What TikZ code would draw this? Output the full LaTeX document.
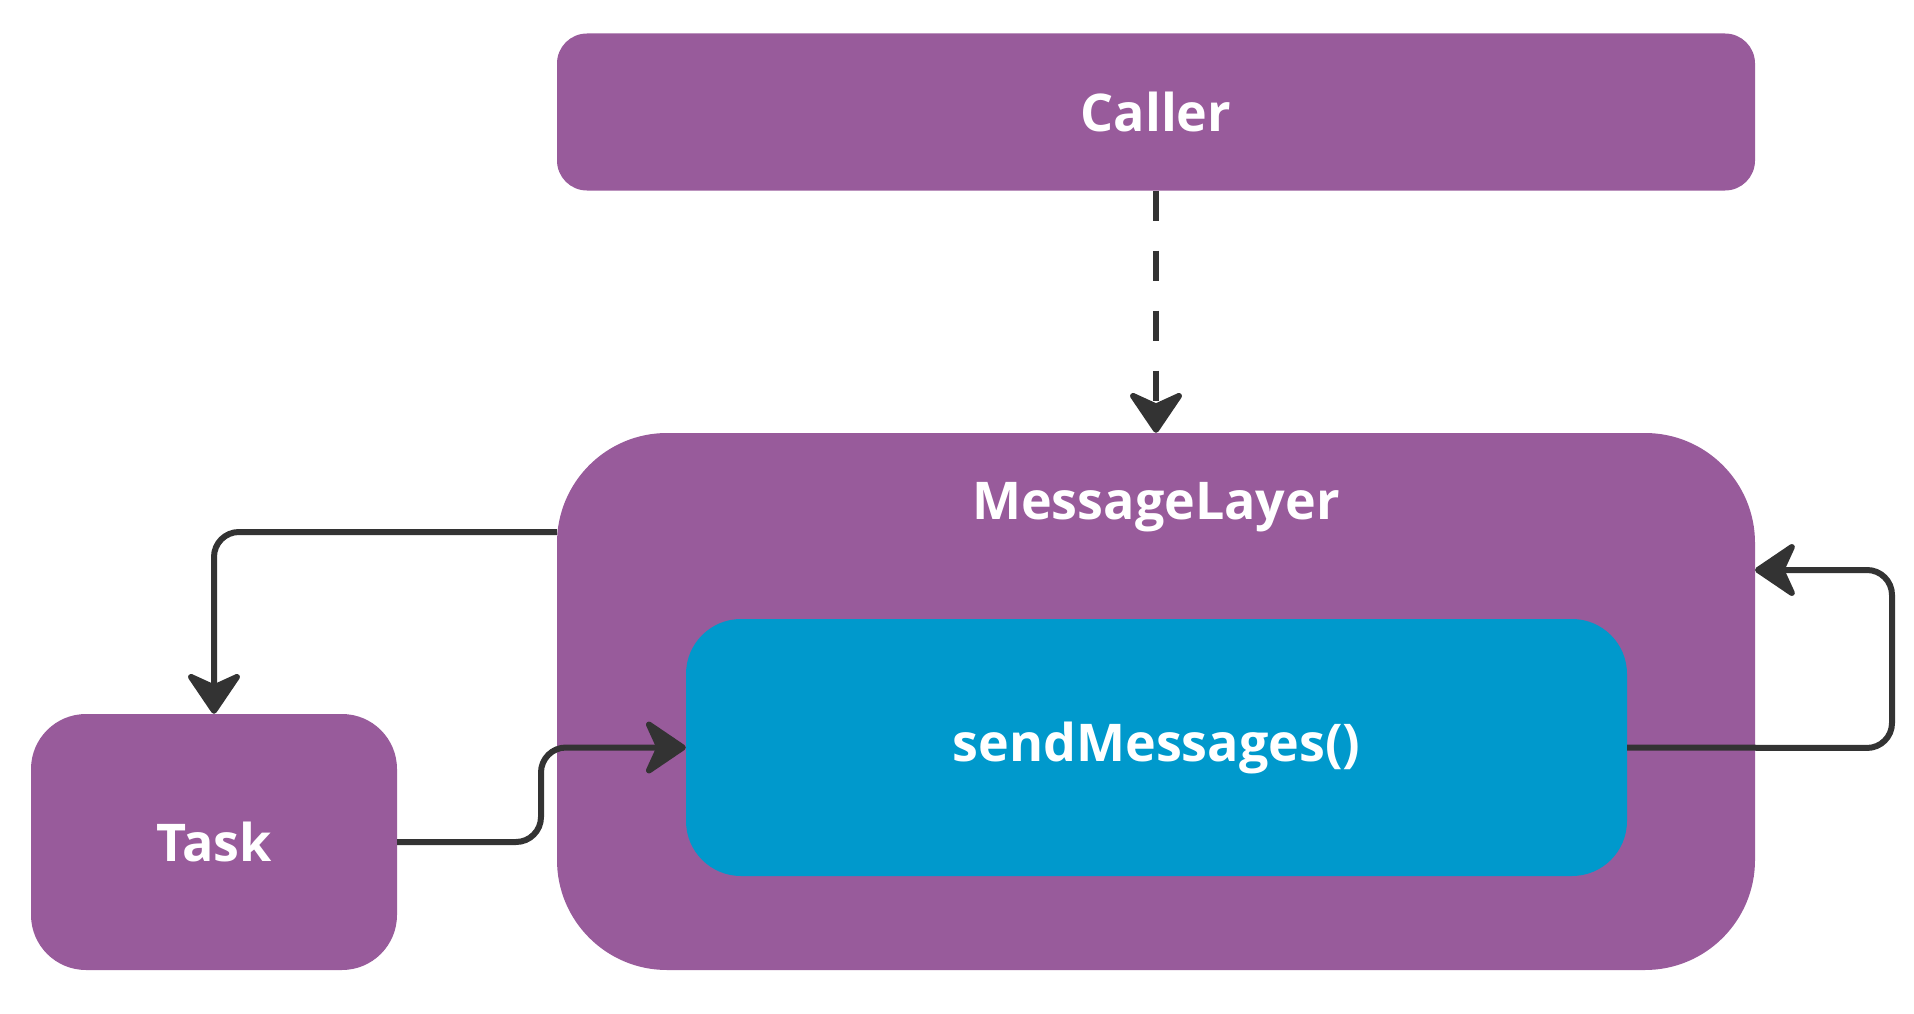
\documentclass[tikz,border=0pt]{standalone}
\usepackage{fontspec}
\setmainfont{Open Sans}
\usetikzlibrary{arrows.meta,positioning}
\definecolor{boxpurple}{HTML}{985B9B}
\definecolor{boxblue}{HTML}{0099CC}
\definecolor{linedark}{HTML}{333333}

\begin{document}
\begin{tikzpicture}[x=1pt,y=-1pt,
    box/.style={draw=none, fill=boxpurple, text=white, font=\fontsize{52}{60}\selectfont\bfseries, inner sep=0pt},
    link/.style={linedark, line width=6pt, rounded corners=25pt, -{Stealth[length=46pt,width=62pt,inset=14pt,round]}}]
    \useasboundingbox (0,0) rectangle (1914,1014);

    % Boxes
    \node[box, rounded corners=30pt, minimum width=1198pt, minimum height=157pt] (caller) at (1156,112) {Caller};
    \node[box, rounded corners=110pt, minimum width=1198pt, minimum height=537pt] (layer) at (1156,701.5) {};
    \node[font=\fontsize{52}{60}\selectfont\bfseries, text=white] (layertitle) at (1156,507) {MessageLayer};
    \node[box, fill=boxblue, rounded corners=55pt, minimum width=941pt, minimum height=257pt] (send) at (1156.5,747.5) {sendMessages()};
    \node[box, rounded corners=55pt, minimum width=366pt, minimum height=256pt] (task) at (214,842) {Task};

    % Connectors
    \coordinate (layerleft) at (557,532);
    \coordinate (layerright) at (1755,570);
    \draw[link, dash pattern=on 30pt off 30pt] (caller.south) -- (layer.north);
    \draw[link] (layerleft) -| (task.north);
    \draw[link] (task.east |- 0,842) -- (541,842) |- (send.west);
    \draw[link] (send.east) -- (1892,748) |- (layerright);
\end{tikzpicture}
\end{document}
